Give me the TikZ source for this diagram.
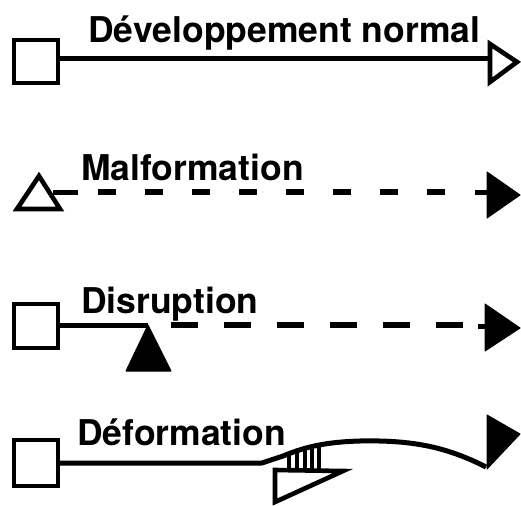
\documentclass[tikz,border=0pt]{standalone}
\usepackage{fontspec}
\setmainfont{TeX Gyre Heros}
\begin{document}
\begin{tikzpicture}[x=1pt,y=-1pt,
  lbl/.style={anchor=base west,inner sep=0pt,font=\fontsize{35.5}{36}\selectfont\bfseries},
  ln/.style={line width=5pt},
  dsh/.style={line width=5.5pt},
  shp/.style={line width=4.6pt,line join=miter,fill=white},
  fil/.style={fill=black,draw=black,line width=1pt,line join=round}]
\useasboundingbox (0,0) rectangle (521,505);
% Row 1 : normal development
\node[lbl] (t1) at (88,43) {Développement normal};
\coordinate (a1) at (58,59);
\coordinate (b1) at (490,59);
\draw[ln] (a1) -- (b1);
\draw[shp] (14,40) rectangle (58,83);
\draw[shp] (490,44) -- (517,62) -- (490,82) -- cycle;
% Row 2 : malformation
\node[lbl] (t2) at (81,180) {Malformation};
\coordinate (a2) at (53,192);
\draw[ln] (a2) -- (78,192);
\draw[dsh,dash pattern=on 18pt off 29pt] (98,192) -- (452,192);
\draw[ln] (475,192) -- (488,192);
\draw[shp] (39,176) -- (60,209) -- (17,209) -- cycle;
\draw[fil] (487,172) -- (520,195) -- (487,218) -- cycle;
% Row 3 : disruption
\node[lbl] (t3) at (81,313) {Disruption};
\draw[ln] (58,325) -- (148,325);
\draw[dsh,dash pattern=on 27pt off 26pt] (171,325) -- (465,325);
\draw[ln] (478,326) -- (486,326);
\draw[shp] (14,304) rectangle (58,348);
\draw[fil] (148,325) -- (171,371) -- (126,371) -- cycle;
\draw[fil] (485,304) -- (520,328) -- (485,351) -- cycle;
% Row 4 : deformation
\node[lbl] (t4) at (77,445) {Déformation};
\draw[ln,line join=round] (58,463) -- (262,463) -- (283,456)
  .. controls (305,447) and (325,442) .. (360,441)
  .. controls (410,440) and (445,446) .. (486,467);
\foreach \hx/\hy in {289/454,297/451,305/449,312/447,319/446}
  \draw[line width=3.6pt] (\hx,\hy) -- (\hx,469);
\draw[shp] (275,470) -- (343,471) -- (275,502) -- cycle;
\draw[fil] (487,415) -- (520,434) -- (487,469) -- cycle;
\draw[shp] (14,440) rectangle (58,486);
\end{tikzpicture}
\end{document}
